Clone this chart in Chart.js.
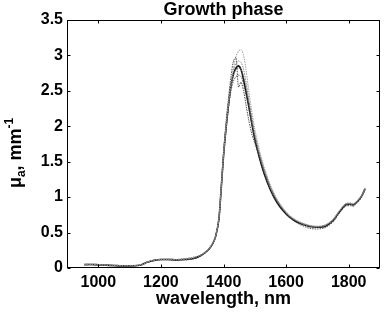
<!DOCTYPE html>
<html>
<head>
<meta charset="utf-8">
<script src="https://cdn.jsdelivr.net/npm/chart.js@4.4.1/dist/chart.umd.min.js"></script>
<style>
  body { margin: 0; background: #fff; }
  canvas { display: block; }
</style>
</head>
<body>
<canvas id="growth-chart" width="385" height="314"></canvas>
<script>
const wavelengths = [955, 980, 1000, 1025, 1050, 1075, 1100, 1125, 1140, 1155, 1170, 1185, 1200, 1225, 1250, 1275, 1300, 1325, 1350, 1365, 1375, 1385, 1392, 1400, 1408, 1416, 1424, 1432, 1440, 1448, 1456, 1464, 1472, 1480, 1490, 1500, 1515, 1530, 1550, 1570, 1590, 1610, 1630, 1650, 1675, 1700, 1725, 1750, 1770, 1790, 1805, 1815, 1830, 1842, 1852];

const sampleMain = [0.05, 0.05, 0.045, 0.04, 0.035, 0.03, 0.03, 0.035, 0.05, 0.08, 0.10, 0.115, 0.12, 0.12, 0.115, 0.12, 0.13, 0.17, 0.25, 0.34, 0.45, 0.68, 1.08, 1.58, 1.97, 2.3, 2.58, 2.74, 2.82, 2.85, 2.8, 2.66, 2.48, 2.3, 2.05, 1.82, 1.55, 1.33, 1.1, 0.93, 0.81, 0.72, 0.66, 0.62, 0.585, 0.575, 0.59, 0.67, 0.79, 0.89, 0.9, 0.89, 0.95, 1.02, 1.12];
const sampleTop = [0.05, 0.055, 0.05, 0.045, 0.04, 0.035, 0.035, 0.04, 0.055, 0.085, 0.105, 0.12, 0.125, 0.125, 0.12, 0.125, 0.14, 0.18, 0.26, 0.35, 0.46, 0.7, 1.1, 1.6, 2.0, 2.35, 2.62, 2.82, 2.98, 3.06, 3.08, 3.0, 2.8, 2.52, 2.22, 1.96, 1.66, 1.42, 1.17, 0.98, 0.85, 0.75, 0.68, 0.64, 0.6, 0.59, 0.61, 0.69, 0.81, 0.91, 0.92, 0.91, 0.96, 1.03, 1.13];
const sampleHigh = [0.045, 0.05, 0.045, 0.04, 0.035, 0.03, 0.03, 0.035, 0.05, 0.08, 0.10, 0.115, 0.12, 0.125, 0.12, 0.13, 0.15, 0.18, 0.25, 0.34, 0.45, 0.69, 1.1, 1.6, 2.0, 2.32, 2.6, 2.78, 2.88, 2.92, 2.9, 2.8, 2.62, 2.4, 2.14, 1.9, 1.62, 1.4, 1.15, 0.97, 0.84, 0.74, 0.68, 0.63, 0.6, 0.585, 0.6, 0.68, 0.8, 0.9, 0.91, 0.9, 0.96, 1.03, 1.12];
const sampleLow = [0.04, 0.045, 0.04, 0.035, 0.03, 0.03, 0.03, 0.035, 0.045, 0.075, 0.095, 0.11, 0.115, 0.115, 0.11, 0.115, 0.125, 0.165, 0.24, 0.33, 0.44, 0.67, 1.06, 1.55, 1.94, 2.26, 2.5, 2.64, 2.7, 2.72, 2.7, 2.6, 2.45, 2.28, 2.04, 1.82, 1.56, 1.34, 1.11, 0.94, 0.82, 0.72, 0.65, 0.6, 0.56, 0.55, 0.57, 0.65, 0.77, 0.87, 0.88, 0.87, 0.93, 1.0, 1.1];
const sampleSpike = [0.05, 0.05, 0.045, 0.04, 0.035, 0.03, 0.03, 0.035, 0.05, 0.08, 0.10, 0.115, 0.12, 0.12, 0.115, 0.12, 0.135, 0.17, 0.25, 0.34, 0.45, 0.68, 1.1, 1.62, 2.05, 2.4, 2.7, 2.92, 2.97, 2.55, 2.62, 2.5, 2.3, 2.1, 1.9, 1.76, 1.58, 1.38, 1.14, 0.96, 0.83, 0.73, 0.67, 0.63, 0.595, 0.58, 0.6, 0.67, 0.79, 0.89, 0.9, 0.89, 0.95, 1.02, 1.11];
const sampleMid = [0.05, 0.05, 0.045, 0.04, 0.035, 0.03, 0.03, 0.035, 0.05, 0.08, 0.10, 0.115, 0.12, 0.12, 0.12, 0.13, 0.145, 0.175, 0.25, 0.34, 0.45, 0.68, 1.08, 1.58, 1.98, 2.3, 2.56, 2.72, 2.8, 2.82, 2.8, 2.7, 2.55, 2.36, 2.1, 1.87, 1.6, 1.37, 1.13, 0.96, 0.83, 0.73, 0.67, 0.62, 0.59, 0.575, 0.6, 0.68, 0.8, 0.9, 0.9, 0.88, 0.95, 1.02, 1.12];

const xTicks = [1000, 1200, 1400, 1600, 1800];
const yTicks = [0, 0.5, 1, 1.5, 2, 2.5, 3, 3.5];

const FONT = 'Arial, "Liberation Sans", Helvetica, sans-serif';

function toPoints(values) {
    return wavelengths.map((w, i) => ({ x: w, y: values[i] }));
}

function graySet(values, color) {
    return {
        data: toPoints(values),
        borderColor: color,
        borderWidth: 1,
        borderDash: [1.5, 1],
        pointRadius: 0,
        tension: 0.3,
        fill: false,
    };
}

// MATLAB style box with inward ticks on all four sides
const boxFrame = {
    id: 'boxFrame',
    afterDraw(chart) {
        const { ctx, chartArea: a, scales } = chart;
        const L = Math.round(a.left) + 0.5, R = Math.round(a.right) - 0.5;
        const T = Math.round(a.top) + 0.5, B = Math.round(a.bottom) - 0.5;
        ctx.save();
        ctx.strokeStyle = '#000';
        ctx.lineWidth = 1;
        ctx.strokeRect(L, T, R - L, B - T);
        ctx.beginPath();
        xTicks.forEach(v => {
            const px = Math.round(scales.x.getPixelForValue(v)) + 0.5;
            ctx.moveTo(px, B); ctx.lineTo(px, B - 3);
            ctx.moveTo(px, T); ctx.lineTo(px, T + 3);
        });
        yTicks.forEach(v => {
            const py = Math.round(scales.y.getPixelForValue(v)) + 0.5;
            ctx.moveTo(L, py); ctx.lineTo(L + 3, py);
            ctx.moveTo(R, py); ctx.lineTo(R - 3, py);
        });
        ctx.stroke();
        ctx.restore();
    }
};

// y label with subscript and superscript: mu_a, mm^-1
const yLabel = {
    id: 'yLabel',
    afterDraw(chart) {
        const { ctx, chartArea: a } = chart;
        const parts = [
            { t: '\u03bc', size: 18, dy: 0 },
            { t: 'a', size: 12, dy: 4 },
            { t: ', mm', size: 18, dy: 0 },
            { t: '-1', size: 12, dy: -8 },
        ];
        ctx.save();
        ctx.fillStyle = '#000';
        ctx.textBaseline = 'alphabetic';
        let total = 0;
        parts.forEach(p => {
            ctx.font = `bold ${p.size}px ${FONT}`;
            p.w = ctx.measureText(p.t).width;
            total += p.w;
        });
        ctx.translate(21, (a.top + a.bottom) / 2 + 9);
        ctx.rotate(-Math.PI / 2);
        let x = -total / 2;
        parts.forEach(p => {
            ctx.font = `bold ${p.size}px ${FONT}`;
            ctx.fillText(p.t, x, p.dy);
            x += p.w;
        });
        ctx.restore();
    }
};

const ctx = document.getElementById('growth-chart').getContext('2d');
new Chart(ctx, {
    type: 'line',
    data: {
        datasets: [
            graySet(sampleTop, 'rgba(150,150,150,0.9)'),
            graySet(sampleHigh, 'rgba(130,130,130,0.9)'),
            graySet(sampleMid, 'rgba(110,110,110,0.9)'),
            graySet(sampleLow, 'rgba(70,70,70,0.9)'),
            graySet(sampleSpike, 'rgba(60,60,60,0.9)'),
            {
                data: toPoints(sampleMain),
                borderColor: '#111',
                borderWidth: 1.6,
                pointRadius: 0,
                tension: 0.3,
                fill: false,
            },
        ]
    },
    options: {
        responsive: false,
        animation: false,
        layout: { padding: { left: 0, right: 5, top: 0, bottom: 0 } },
        plugins: {
            legend: { display: false },
            tooltip: { enabled: false },
            title: {
                display: true,
                fullSize: false,
                text: 'Growth phase',
                color: '#000',
                font: { family: FONT, size: 18, weight: 'bold', lineHeight: 1.1 },
                padding: { top: 0, bottom: 0 },
            },
        },
        scales: {
            x: {
                type: 'linear',
                min: 900,
                max: 1900,
                afterBuildTicks: scale => { scale.ticks = xTicks.map(v => ({ value: v })); },
                afterFit: scale => { scale.height = 46; },
                grid: { display: false, drawTicks: false },
                border: { display: false },
                ticks: {
                    color: '#000',
                    padding: 5,
                    maxRotation: 0,
                    font: { family: FONT, size: 16, weight: 'bold' },
                    callback: v => `${v}`,
                },
                title: {
                    display: true,
                    text: 'wavelength, nm',
                    color: '#000',
                    padding: { top: 0, bottom: 4.5 },
                    font: { family: FONT, size: 18, weight: 'bold', lineHeight: 1.2 },
                },
            },
            y: {
                min: 0,
                max: 3.5,
                afterBuildTicks: scale => { scale.ticks = yTicks.map(v => ({ value: v })); },
                afterFit: scale => { scale.width = 67; },
                grid: { display: false, drawTicks: false },
                border: { display: false },
                ticks: {
                    color: '#000',
                    padding: 4,
                    font: { family: FONT, size: 16, weight: 'bold' },
                    callback: v => `${v}`,
                },
            },
        },
    },
    plugins: [boxFrame, yLabel],
});
</script>
</body>
</html>
